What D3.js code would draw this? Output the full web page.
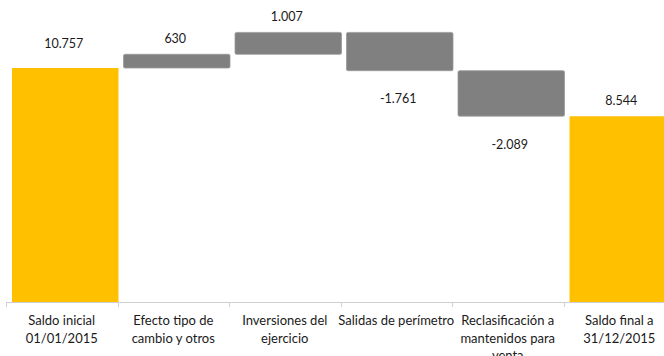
<!DOCTYPE html>
<html>
<head>
<meta charset="utf-8">
<script src="https://cdn.jsdelivr.net/npm/d3@7"></script>
<style>
  html, body { margin: 0; padding: 0; background: #fff; }
  svg { display: block; }
  text { font-family: Lato, "Open Sans", sans-serif; fill: #1a1a1a; }
</style>
</head>
<body>
<svg id="chart" width="664" height="356"></svg>
<script>
// categories (line breaks as in the original)
const categories = [
  ["Saldo inicial", "01/01/2015"],
  ["Efecto tipo de", "cambio y otros"],
  ["Inversiones del", "ejercicio"],
  ["Salidas de perímetro"],
  ["Reclasificación a", "mantenidos para", "venta"],
  ["Saldo final a", "31/12/2015"]
];
const values = [10757, 630, 1007, -1761, -2089, 8544];
const isTotal = [true, false, false, false, false, true];

const width = 664;
const height = 356;
const baseY = 302;

const svg = d3.select("#chart");

// running totals -> start/end of each bar
let running = 0;
const bars = values.map((v, i) => {
  let start, end;
  if (isTotal[i]) {
    start = 0;
    end = v;
    running = v;
  } else {
    start = running;
    end = running + v;
    running = end;
  }
  return { key: i, label: categories[i], value: v, start, end, total: isTotal[i] };
});

const x = d3
  .scaleBand()
  .domain(bars.map(d => d.key))
  .range([6, 675])
  .padding(0);

const y = d3
  .scaleLinear()
  .domain([0, 10757])
  .range([baseY, 68]);

const fmt = d3.formatLocale({
  decimal: ",",
  thousands: ".",
  grouping: [3],
  currency: ["", "€"],
  minus: "-"
}).format(",d");

// bars
svg
  .append("g")
  .selectAll("rect")
  .data(bars)
  .enter()
  .append("rect")
  .attr("x", d => x(d.key) + 6)
  .attr("width", x.bandwidth() - 5)
  .attr("y", d => y(Math.max(d.start, d.end)))
  .attr("height", d => Math.abs(y(d.start) - y(d.end)))
  .attr("rx", d => (d.total ? 0.5 : 1.5))
  .attr("fill", d => (d.total ? "#ffc000" : "#808080"))
  .attr("stroke", d => (d.total ? "none" : "#9a9a9a"))
  .attr("stroke-width", 0.8);

// value labels
svg
  .append("g")
  .selectAll("text")
  .data(bars)
  .enter()
  .append("text")
  .attr("x", d => x(d.key) + x.bandwidth() / 2 + 2)
  .attr("y", d =>
    d.value >= 0
      ? y(Math.max(d.start, d.end)) - (d.key === 0 ? 25 : 16)
      : y(Math.min(d.start, d.end)) + 28
  )
  .attr("dominant-baseline", "central")
  .attr("text-anchor", "middle")
  .style("font-size", "12.5px")
  .text(d => fmt(d.value));

// x axis
const axis = svg.append("g");
axis
  .append("line")
  .attr("x1", 6)
  .attr("x2", width)
  .attr("y1", baseY + 0.5)
  .attr("y2", baseY + 0.5)
  .attr("stroke", "#d0d0d0")
  .attr("stroke-width", 1);

axis
  .selectAll(".tick")
  .data(bars)
  .enter()
  .append("line")
  .attr("class", "tick")
  .attr("x1", d => Math.round(x(d.key)) + 0.5)
  .attr("x2", d => Math.round(x(d.key)) + 0.5)
  .attr("y1", baseY)
  .attr("y2", baseY + 5)
  .attr("stroke", "#d0d0d0");

const catLabels = axis
  .selectAll(".cat")
  .data(bars)
  .enter()
  .append("text")
  .attr("class", "cat")
  .attr("text-anchor", "middle")
  .style("font-size", "13px");

catLabels
  .selectAll("tspan")
  .data(d => d.label.map(l => ({ l, cx: x(d.key) + x.bandwidth() / 2 })))
  .enter()
  .append("tspan")
  .attr("x", d => d.cx)
  .attr("y", (d, i) => 325 + i * 17.5)
  .text(d => d.l);
</script>
</body>
</html>
